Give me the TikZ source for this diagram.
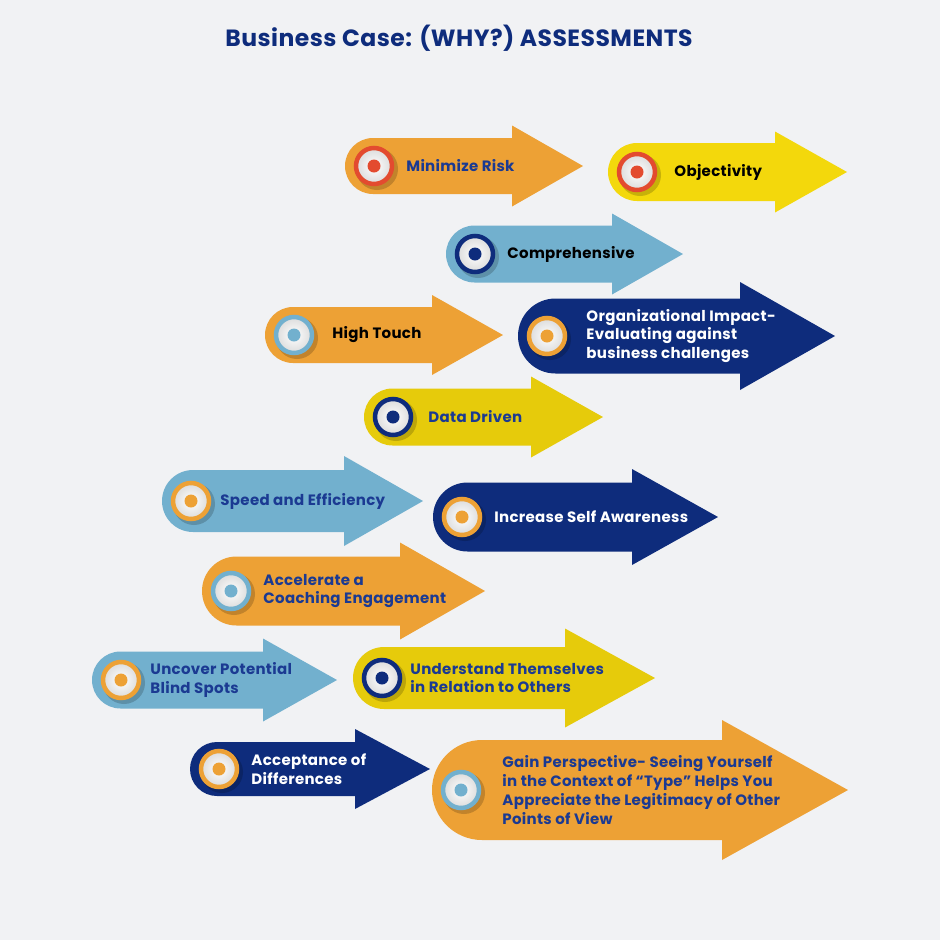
\documentclass[tikz,border=0pt]{standalone}
\usepackage{fontspec}
\setmainfont{Poppins}[LetterSpace=2]
\usetikzlibrary{positioning}

\definecolor{bgGrey}{HTML}{F1F2F4}
\definecolor{caseOrange}{HTML}{EDA135}
\definecolor{caseYellow}{HTML}{E6CB0B}
\definecolor{caseSun}{HTML}{F3D80C}
\definecolor{caseSky}{HTML}{72B0CE}
\definecolor{caseNavy}{HTML}{0E2C7C}
\definecolor{caseRed}{HTML}{E34B2F}
\definecolor{inkBlue}{HTML}{1B3A92}

% body, head and knob of one arrow
% #1 name, #2 body, #3 ring, #4 left x, #5 mid y, #6 half height,
% #7 head base x, #8 head half height, #9 tip x
\newcommand\whyarrow[9]{%
  \fill[#2] (#4+#6,#5-#6) -- (#7,#5-#6) -- (#7,#5-#8) -- (#9,#5)
    -- (#7,#5+#8) -- (#7,#5+#6) -- (#4+#6,#5+#6)
    arc[start angle=270,end angle=90,radius=#6pt] -- cycle;
  \fill[black,opacity=.18] (#4+32,#5+3) circle (21pt);
  \node[knob=#3] (#1) at (#4+29,#5) {};
}

\begin{document}
\begin{tikzpicture}
  [x=1pt,y=-1pt,
   knob/.style={circle,draw=#1,line width=4.5pt,minimum size=36pt,inner sep=0pt,
     inner color=white,outer color=black!14,
     path picture={\fill[#1] (path picture bounding box.center) circle (6.5pt);}},
   lbl/.style={right=12pt of #1,inner sep=0pt,align=left,anchor=west,
     font=\bfseries\fontsize{15}{18.8}\selectfont}]
  \fill[bgGrey] (0,0) rectangle (940,940);
  \useasboundingbox (0,0) rectangle (940,940);

  \node[font=\bfseries\fontsize{23.5}{28}\selectfont,text=caseNavy] (title) at (459,38)
    {Business Case: (WHY?) ASSESSMENTS};

  \whyarrow{risk}{caseOrange}{caseRed}{345}{166}{28}{512}{40.5}{583}
  \whyarrow{objective}{caseSun}{caseRed}{608}{172}{29}{775}{40.5}{847}
  \whyarrow{compre}{caseSky}{caseNavy}{446}{254}{28.5}{612}{40.5}{683}
  \whyarrow{touch}{caseOrange}{caseSky}{265}{335}{28}{432}{40}{503}
  \whyarrow{impact}{caseNavy}{caseOrange}{518}{336}{37.5}{740}{54}{835}
  \whyarrow{data}{caseYellow}{caseNavy}{364}{417}{28.5}{531}{40.5}{603}
  \whyarrow{speed}{caseSky}{caseOrange}{162}{501}{31}{344}{45}{423}
  \whyarrow{aware}{caseNavy}{caseOrange}{433}{517}{34.5}{632}{48}{718}
  \whyarrow{coach}{caseOrange}{caseSky}{202}{591}{34.5}{400}{48.5}{485}
  \whyarrow{blind}{caseSky}{caseOrange}{92}{680}{28.5}{263}{41.5}{337}
  \whyarrow{relate}{caseYellow}{caseNavy}{353}{678}{31}{565}{49.5}{655}
  \whyarrow{differ}{caseNavy}{caseOrange}{190}{769}{27}{355}{40}{430}
  \whyarrow{view}{caseOrange}{caseSky}{432}{790}{50}{722}{70}{848}

  \node[lbl=risk,text=inkBlue] (risk-t) {Minimize Risk};
  \node[lbl=objective,text=black,xshift=5pt] (objective-t) {Objectivity};
  \node[lbl=compre,text=black] (compre-t) {Comprehensive};
  \node[lbl=touch,text=black,xshift=6pt] (touch-t) {High Touch};
  \node[lbl=impact,text=white,xshift=7pt] (impact-t) {Organizational Impact-\\Evaluating against\\business challenges};
  \node[lbl=data,text=inkBlue,xshift=3pt] (data-t) {Data Driven};
  \node[lbl=speed,text=inkBlue,xshift=-3pt] (speed-t) {Speed and Efficiency};
  \node[lbl=aware,text=white] (aware-t) {Increase Self Awareness};
  \node[lbl=coach,text=inkBlue] (coach-t) {Accelerate a\\Coaching Engagement};
  \node[lbl=blind,text=inkBlue,xshift=-3pt] (blind-t) {Uncover Potential\\Blind Spots};
  \node[lbl=relate,text=inkBlue,xshift=-4pt] (relate-t) {Understand Themselves\\in Relation to Others};
  \node[lbl=differ,text=white] (differ-t) {Acceptance of\\Differences};
  \node[lbl=view,text=inkBlue,xshift=9pt] (view-t) {Gain Perspective- Seeing Yourself\\in the Context of “Type” Helps You\\Appreciate the Legitimacy of Other\\Points of View};
\end{tikzpicture}
\end{document}
